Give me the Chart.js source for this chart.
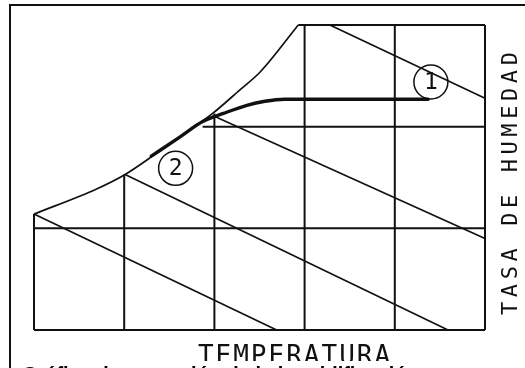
<!DOCTYPE html>
<html>
<head>
<meta charset="utf-8">
<script src="https://cdn.jsdelivr.net/npm/chart.js@4.4.1/dist/chart.umd.min.js"></script>
<style>
  html, body { margin: 0; padding: 0; background: #fff; }
  canvas { display: block; }
</style>
</head>
<body>
<canvas id="psyChart" width="525" height="368"></canvas>
<script>
// Temperature grid (x) and humidity grid (y)
const tempLines = [0, 1, 2, 3, 4, 5];
const tempLineTops = [1.14, 1.53, 2.13, 3, 3, 3];   // where each vertical meets the saturation curve
const humLines = [0, 1, 2, 3];
const humLineStarts = [0, 0, 1.87, 2.93];

// Saturation curve
const satTemp = [0, 0.70, 1.01, 1.36, 1.98, 2.28, 2.51, 2.93];
const satHum = [1.14, 1.39, 1.53, 1.74, 2.13, 2.36, 2.54, 3.0];

// Adiabatic saturation lines: [t1, h1, t2, h2]
const adiabats = [
  [0, 1.14, 2.69, 0],
  [1.01, 1.53, 4.59, 0],
  [1.98, 2.11, 5, 0.90],
  [3.28, 3, 5, 2.28]
];

// Humidification path from state 2 to state 1
const pathTemp = [1.30, 1.62, 1.87, 2.10, 2.36, 2.56, 2.78, 4.37];
const pathHum = [1.71, 1.90, 2.05, 2.13, 2.21, 2.25, 2.27, 2.27];

// State markers
const markerTemp = [4.40, 1.57];
const markerHum = [2.44, 1.59];
const markerLabels = ['1', '2'];

const xTitle = 'TEMPERATURA';
const yTitle = 'TASA DE HUMEDAD';
const caption = 'Gráfica de operación de la humidificación';

const ink = '#111';

function seg(points, width) {
  return {
    data: points,
    showLine: true,
    borderColor: ink,
    borderWidth: width || 2,
    pointRadius: 0,
    clip: false
  };
}

const datasets = [];
tempLines.forEach((t, i) => datasets.push(seg([{x: t, y: 0}, {x: t, y: tempLineTops[i]}])));
humLines.forEach((h, i) => datasets.push(seg([{x: humLineStarts[i], y: h}, {x: 5, y: h}])));
adiabats.forEach(a => datasets.push(seg([{x: a[0], y: a[1]}, {x: a[2], y: a[3]}], 1.7)));

const sat = seg(satTemp.map((t, i) => ({x: t, y: satHum[i]})), 1.7);
sat.cubicInterpolationMode = 'monotone';
datasets.push(sat);

const path = seg(pathTemp.map((t, i) => ({x: t, y: pathHum[i]})), 3.4);
path.cubicInterpolationMode = 'monotone';
path.borderCapStyle = 'round';
datasets.push(path);

datasets.push({
  data: markerTemp.map((t, i) => ({x: t, y: markerHum[i]})),
  showLine: false,
  pointStyle: 'circle',
  pointRadius: 17,
  pointBorderWidth: 1.5,
  pointBorderColor: ink,
  pointBackgroundColor: 'rgba(0,0,0,0)',
  clip: false
});

// Frame, axis titles and marker numbers
const annotations = {
  id: 'annotations',
  afterDraw(chart) {
    const c = chart.ctx;
    const xs = chart.scales.x, ys = chart.scales.y;
    c.save();
    c.strokeStyle = ink;
    c.lineWidth = 2;
    c.beginPath();
    c.moveTo(10, 368);
    c.lineTo(10, 5);
    c.lineTo(525, 5);
    c.stroke();

    c.fillStyle = ink;
    c.textBaseline = 'middle';
    c.textAlign = 'center';
    c.font = '23px "DejaVu Sans Mono"';
    markerLabels.forEach((lab, i) => {
      c.fillText(lab, xs.getPixelForValue(markerTemp[i]), ys.getPixelForValue(markerHum[i]) + 1);
    });

    // x title, bottom part hidden under the caption line
    c.save();
    c.beginPath();
    c.rect(0, 0, 525, 361);
    c.clip();
    c.font = '26px "DejaVu Sans Mono"';
    c.letterSpacing = '2px';
    c.textAlign = 'left';
    c.textBaseline = 'alphabetic';
    const wx = c.measureText(xTitle).width - 2;
    c.fillText(xTitle, 294 - wx / 2, 364);
    c.restore();

    // y title along the right side
    c.save();
    c.translate(517, 315);
    c.rotate(-Math.PI / 2);
    c.font = '22px "DejaVu Sans Mono"';
    c.letterSpacing = '0px';
    const w0 = c.measureText(yTitle).width;
    c.letterSpacing = ((263 - w0) / (yTitle.length - 1)).toFixed(2) + 'px';
    c.textAlign = 'left';
    c.textBaseline = 'alphabetic';
    c.fillText(yTitle, 0, 0);
    c.restore();

    c.font = 'bold 20px "Liberation Sans"';
    c.textAlign = 'left';
    c.textBaseline = 'alphabetic';
    c.fillStyle = '#000';
    c.fillText(caption, 22, 380.5);
    c.restore();
  }
};

new Chart(document.getElementById('psyChart'), {
  type: 'scatter',
  data: { datasets },
  options: {
    responsive: false,
    animation: false,
    layout: { padding: { left: 34, right: 40, top: 25, bottom: 38 } },
    scales: {
      x: { type: 'linear', min: 0, max: 5, display: false },
      y: { type: 'linear', min: 0, max: 3, display: false }
    },
    plugins: { legend: { display: false }, tooltip: { enabled: false } }
  },
  plugins: [annotations]
});
</script>
</body>
</html>
